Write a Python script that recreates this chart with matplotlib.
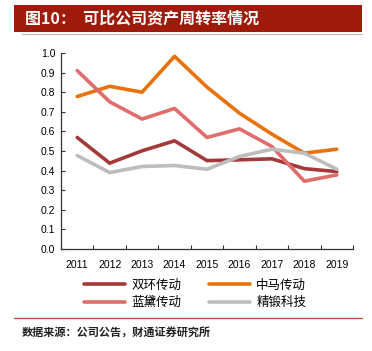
import matplotlib
matplotlib.use("Agg")
import matplotlib.pyplot as plt
from matplotlib.patches import Rectangle
from matplotlib.lines import Line2D

years = ["2011", "2012", "2013", "2014", "2015", "2016", "2017", "2018", "2019"]
shuanghuan = [0.569, 0.438, 0.501, 0.552, 0.451, 0.455, 0.460, 0.410, 0.395]
zhongma = [0.778, 0.830, 0.800, 0.983, 0.826, 0.693, 0.586, 0.489, 0.509]
landai = [0.910, 0.751, 0.663, 0.717, 0.569, 0.613, 0.523, 0.346, 0.378]
jingduan = [0.477, 0.390, 0.421, 0.426, 0.407, 0.472, 0.509, 0.489, 0.407]
series_names = ["双环传动", "中马传动", "蓝黛传动", "精锻科技"]
colors = ["#A33A3A", "#E8720C", "#E06C6C", "#BDBDBD"]
yticks = [0.0, 0.1, 0.2, 0.3, 0.4, 0.5, 0.6, 0.7, 0.8, 0.9, 1.0]

cjk = ["Noto Sans CJK SC", "DejaVu Sans"]
num_font = "Liberation Sans"

fig = plt.figure(figsize=(3.72, 3.51), dpi=100)
W, H = 372, 351

# Title bar
fig.patches.append(Rectangle((14 / W, 1 - 32 / H), 348 / W, 27 / H,
                             transform=fig.transFigure, facecolor="#9E1B0B",
                             edgecolor="none"))
fig.add_artist(Line2D([22 / W, 362 / W], [1 - 33.5 / H, 1 - 33.5 / H],
                      transform=fig.transFigure, color="#D9B0A8", lw=0.8))
fig.text(25 / W, 1 - 18.5 / H, "图10：  可比公司资产周转率情况", color="white",
         fontsize=11.5, fontweight="bold", family=cjk, va="center", ha="left")

ax = fig.add_axes([61 / W, 1 - 249 / H, 292 / W, 196 / H])
x = list(range(len(years)))
all_vals = [shuanghuan, zhongma, landai, jingduan]
for vals, c in zip(all_vals, colors):
    ax.plot(x, vals, color=c, lw=2.6, solid_capstyle="round", solid_joinstyle="round")

ax.set_ylim(0, 1.0)
ax.set_xlim(-0.5, len(years) - 0.5)
ax.set_yticks(yticks)
ax.set_yticklabels([f"{v:.1f}" for v in yticks], fontsize=7.5, family=num_font)
ax.set_xticks([i - 0.5 for i in range(len(years) + 1)])
ax.set_xticklabels([])
ax.set_xticks(x, minor=True)
ax.set_xticklabels(years, minor=True, fontsize=7.5, family=num_font)
ax.tick_params(axis="x", which="major", direction="in", length=3, width=0.8, color="#333333")
ax.tick_params(axis="x", which="minor", length=0, pad=8)
ax.tick_params(axis="y", direction="in", length=3, width=0.8, color="#333333", pad=4)
for s in ["top", "right"]:
    ax.spines[s].set_visible(False)
for s in ["left", "bottom"]:
    ax.spines[s].set_color("#333333")
    ax.spines[s].set_linewidth(0.9)

# Legend order (column-wise fill): row1 双环, 中马; row2 蓝黛, 精锻
order = [0, 2, 1, 3]
leg_handles = [Line2D([], [], color=colors[i], lw=2.6, solid_capstyle="round") for i in order]
leg_labels = [series_names[i] for i in order]
leg = fig.legend(leg_handles, leg_labels, loc="center", ncol=2,
                 bbox_to_anchor=(195 / W, 1 - 294 / H), frameon=False,
                 prop={"family": cjk, "size": 9}, handlelength=3.3,
                 columnspacing=2.2, handletextpad=0.5, labelspacing=0.35)

fig.add_artist(Line2D([14 / W, 362 / W], [1 - 318 / H, 1 - 318 / H],
                      transform=fig.transFigure, color="#B5463A", lw=0.9))
fig.text(22 / W, 1 - 332 / H, "数据来源：公司公告，财通证券研究所", fontsize=8,
         fontweight="bold", family=cjk, va="center", ha="left", color="#222222")

fig.savefig("out.png", dpi=100)
